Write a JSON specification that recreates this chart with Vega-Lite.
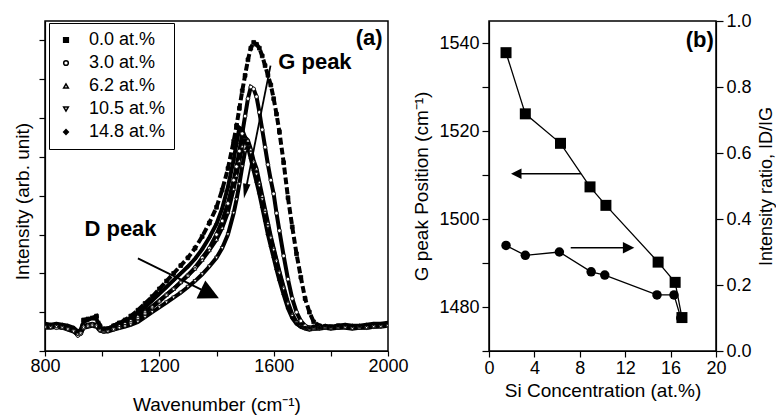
{
 "$schema": "https://vega.github.io/schema/vega-lite/v6.json",
 "padding": {"left": 12, "top": 11, "right": 0, "bottom": 0},
 "background": "white",
 "config": {
  "font": "Liberation Sans",
  "view": {"stroke": "black", "strokeWidth": 1.5},
  "axis": {"labelFont": "Liberation Sans", "titleFont": "Liberation Sans", "labelFontSize": 18, "titleFontSize": 19, "titleFontWeight": "normal", "tickColor": "black", "domainColor": "black", "labelColor": "black", "titleColor": "black", "tickWidth": 1.2, "domainWidth": 1.2, "grid": false, "labelFlush": false, "labelOverlap": false},
  "legend": {"labelFont": "Liberation Sans"},
  "text": {"font": "Liberation Sans"}
 },
 "datasets": {
  "spectra": [
   {"w":800,"s00":0.035,"s30":0.025,"s62":0.03,"s105":0.02,"s148":0.04},
   {"w":820,"s00":0.03,"s30":0.03,"s62":0.025,"s105":0.02,"s148":0.035},
   {"w":840,"s00":0.035,"s30":0.02,"s62":0.03,"s105":0.025,"s148":0.04},
   {"w":860,"s00":0.03,"s30":0.025,"s62":0.02,"s105":0.02,"s148":0.035},
   {"w":880,"s00":0.02,"s30":0.015,"s62":0.02,"s105":0.01,"s148":0.03},
   {"w":900,"s00":0.01,"s30":0.005,"s62":0.01,"s105":0.0,"s148":0.02},
   {"w":915,"s00":-0.01,"s30":-0.02,"s62":-0.01,"s105":-0.015,"s148":0.0},
   {"w":925,"s00":-0.005,"s30":-0.01,"s62":0.0,"s105":-0.01,"s148":0.01},
   {"w":935,"s00":0.06,"s30":0.02,"s62":0.03,"s105":0.02,"s148":0.05},
   {"w":950,"s00":0.065,"s30":0.03,"s62":0.035,"s105":0.025,"s148":0.06},
   {"w":965,"s00":0.07,"s30":0.035,"s62":0.04,"s105":0.03,"s148":0.07},
   {"w":980,"s00":0.08,"s30":0.03,"s62":0.035,"s105":0.025,"s148":0.065},
   {"w":992,"s00":0.03,"s30":0.01,"s62":0.015,"s105":0.005,"s148":0.02},
   {"w":1005,"s00":0.015,"s30":0.0,"s62":0.005,"s105":0.0,"s148":0.01},
   {"w":1020,"s00":0.015,"s30":0.005,"s62":0.01,"s105":0.0,"s148":0.015},
   {"w":1040,"s00":0.03,"s30":0.012,"s62":0.02,"s105":0.01,"s148":0.03},
   {"w":1060,"s00":0.045,"s30":0.022,"s62":0.032,"s105":0.018,"s148":0.045},
   {"w":1080,"s00":0.06,"s30":0.033,"s62":0.045,"s105":0.026,"s148":0.055},
   {"w":1100,"s00":0.08,"s30":0.05,"s62":0.06,"s105":0.035,"s148":0.07},
   {"w":1125,"s00":0.11,"s30":0.07,"s62":0.08,"s105":0.05,"s148":0.095},
   {"w":1150,"s00":0.145,"s30":0.095,"s62":0.105,"s105":0.075,"s148":0.125},
   {"w":1175,"s00":0.18,"s30":0.125,"s62":0.13,"s105":0.1,"s148":0.16},
   {"w":1200,"s00":0.22,"s30":0.155,"s62":0.16,"s105":0.125,"s148":0.195},
   {"w":1225,"s00":0.26,"s30":0.19,"s62":0.19,"s105":0.15,"s148":0.23},
   {"w":1250,"s00":0.3,"s30":0.22,"s62":0.22,"s105":0.175,"s148":0.265},
   {"w":1275,"s00":0.34,"s30":0.255,"s62":0.255,"s105":0.2,"s148":0.3},
   {"w":1300,"s00":0.38,"s30":0.29,"s62":0.29,"s105":0.23,"s148":0.335},
   {"w":1325,"s00":0.43,"s30":0.33,"s62":0.325,"s105":0.26,"s148":0.375},
   {"w":1350,"s00":0.49,"s30":0.38,"s62":0.37,"s105":0.295,"s148":0.425},
   {"w":1375,"s00":0.56,"s30":0.43,"s62":0.42,"s105":0.335,"s148":0.485},
   {"w":1400,"s00":0.64,"s30":0.5,"s62":0.475,"s105":0.38,"s148":0.555},
   {"w":1420,"s00":0.73,"s30":0.57,"s62":0.535,"s105":0.43,"s148":0.635},
   {"w":1440,"s00":0.84,"s30":0.66,"s62":0.615,"s105":0.5,"s148":0.745},
   {"w":1460,"s00":0.98,"s30":0.78,"s62":0.735,"s105":0.61,"s148":0.885},
   {"w":1470,"s00":1.06,"s30":0.85,"s62":0.805,"s105":0.68,"s148":0.97},
   {"w":1480,"s00":1.15,"s30":0.93,"s62":0.88,"s105":0.76,"s148":1.05},
   {"w":1490,"s00":1.24,"s30":1.02,"s62":0.955,"s105":0.85,"s148":1.04},
   {"w":1500,"s00":1.32,"s30":1.11,"s62":1.0,"s105":0.93,"s148":1.0},
   {"w":1510,"s00":1.4,"s30":1.2,"s62":0.985,"s105":0.95,"s148":0.95},
   {"w":1520,"s00":1.46,"s30":1.26,"s62":0.94,"s105":0.92,"s148":0.89},
   {"w":1530,"s00":1.49,"s30":1.25,"s62":0.88,"s105":0.87,"s148":0.83},
   {"w":1540,"s00":1.48,"s30":1.21,"s62":0.84,"s105":0.81,"s148":0.77},
   {"w":1550,"s00":1.46,"s30":1.13,"s62":0.77,"s105":0.75,"s148":0.71},
   {"w":1560,"s00":1.42,"s30":1.04,"s62":0.7,"s105":0.68,"s148":0.64},
   {"w":1570,"s00":1.37,"s30":0.95,"s62":0.63,"s105":0.61,"s148":0.57},
   {"w":1580,"s00":1.32,"s30":0.86,"s62":0.56,"s105":0.54,"s148":0.5},
   {"w":1590,"s00":1.27,"s30":0.78,"s62":0.49,"s105":0.48,"s148":0.44},
   {"w":1600,"s00":1.2,"s30":0.71,"s62":0.43,"s105":0.42,"s148":0.38},
   {"w":1610,"s00":1.12,"s30":0.61,"s62":0.37,"s105":0.36,"s148":0.32},
   {"w":1620,"s00":1.03,"s30":0.52,"s62":0.31,"s105":0.3,"s148":0.265},
   {"w":1635,"s00":0.87,"s30":0.39,"s62":0.23,"s105":0.22,"s148":0.19},
   {"w":1650,"s00":0.69,"s30":0.27,"s62":0.15,"s105":0.14,"s148":0.12},
   {"w":1665,"s00":0.54,"s30":0.17,"s62":0.09,"s105":0.08,"s148":0.07},
   {"w":1680,"s00":0.4,"s30":0.1,"s62":0.05,"s105":0.045,"s148":0.04},
   {"w":1695,"s00":0.28,"s30":0.055,"s62":0.03,"s105":0.025,"s148":0.025},
   {"w":1710,"s00":0.17,"s30":0.03,"s62":0.02,"s105":0.015,"s148":0.02},
   {"w":1725,"s00":0.1,"s30":0.02,"s62":0.015,"s105":0.01,"s148":0.02},
   {"w":1740,"s00":0.05,"s30":0.015,"s62":0.02,"s105":0.015,"s148":0.025},
   {"w":1760,"s00":0.03,"s30":0.02,"s62":0.02,"s105":0.015,"s148":0.02},
   {"w":1780,"s00":0.025,"s30":0.02,"s62":0.025,"s105":0.02,"s148":0.03},
   {"w":1800,"s00":0.025,"s30":0.02,"s62":0.02,"s105":0.015,"s148":0.025},
   {"w":1825,"s00":0.03,"s30":0.025,"s62":0.02,"s105":0.02,"s148":0.03},
   {"w":1850,"s00":0.03,"s30":0.025,"s62":0.025,"s105":0.02,"s148":0.035},
   {"w":1875,"s00":0.025,"s30":0.02,"s62":0.02,"s105":0.015,"s148":0.03},
   {"w":1900,"s00":0.025,"s30":0.025,"s62":0.02,"s105":0.02,"s148":0.03},
   {"w":1925,"s00":0.03,"s30":0.02,"s62":0.025,"s105":0.02,"s148":0.035},
   {"w":1950,"s00":0.035,"s30":0.025,"s62":0.03,"s105":0.025,"s148":0.04},
   {"w":1975,"s00":0.035,"s30":0.03,"s62":0.03,"s105":0.025,"s148":0.04},
   {"w":2000,"s00":0.04,"s30":0.03,"s62":0.035,"s105":0.03,"s148":0.045}
  ],
  "gpos": [
   {"c":1.5,"g":1537.8},{"c":3.2,"g":1523.9},{"c":6.3,"g":1517.2},{"c":8.9,"g":1507.3},
   {"c":10.3,"g":1503.1},{"c":14.9,"g":1490.2},{"c":16.4,"g":1485.6},{"c":17.0,"g":1477.6}
  ],
  "ratio": [
   {"c":1.5,"r":0.32},{"c":3.2,"r":0.29},{"c":6.2,"r":0.3},{"c":9.0,"r":0.24},
   {"c":10.2,"r":0.23},{"c":14.8,"r":0.17},{"c":16.3,"r":0.17},{"c":16.9,"r":0.1}
  ]
 },
 "spacing": 101,
 "bounds": "flush",
 "hconcat": [
  {
   "width": 343,
   "height": 330,
   "layer": [
    {
     "data": {"name": "spectra"},
     "transform": [{"fold": ["s00","s30","s62","s105","s148"], "as": ["series","I"]}],
     "layer": [
      {
       "transform": [{"filter": "datum.series != 's00'"}],
       "mark": {"type": "line", "strokeWidth": 4, "color": "black", "clip": true},
       "encoding": {
        "x": {"field": "w", "type": "quantitative", "scale": {"domain": [800,2000], "nice": false, "zero": false},
              "axis": {"values": [800,1000,1200,1400,1600,1800,2000], "format": "d", "labelExpr": "datum.value % 400 == 0 ? datum.label : ''", "title": "Wavenumber (cm⁻¹)", "tickSize": 5, "labelPadding": 1, "titlePadding": 20}},
        "y": {"field": "I", "type": "quantitative", "scale": {"domain": [-0.1,1.6], "nice": false, "zero": false},
              "axis": {"values": [-0.1,0,0.1,0.2,0.3,0.4,0.5,0.6,0.7,0.8,0.9,1,1.1,1.2,1.3,1.4,1.5,1.6], "labels": false, "title": "Intensity (arb. unit)", "tickSize": 6, "titlePadding": 6, "titleY": 180}},
        "detail": {"field": "series"}
       }
      },
      {
       "transform": [{"filter": "datum.series == 's00'"}],
       "mark": {"type": "line", "strokeWidth": 4, "color": "black", "strokeDash": [7,3], "clip": true},
       "encoding": {
        "x": {"field": "w", "type": "quantitative", "scale": {"domain": [800,2000]}},
        "y": {"field": "I", "type": "quantitative", "scale": {"domain": [-0.1,1.6]}}
       }
      },
      {
       "mark": {"type": "point", "filled": true, "stroke": "black", "strokeWidth": 0.8, "size": 14, "opacity": 1, "clip": true},
       "encoding": {
        "x": {"field": "w", "type": "quantitative", "scale": {"domain": [800,2000]}},
        "y": {"field": "I", "type": "quantitative", "scale": {"domain": [-0.1,1.6]}},
        "shape": {"field": "series", "type": "nominal", "scale": {"domain": ["s00","s30","s62","s105","s148"], "range": ["square","circle","triangle-up","triangle-down","diamond"]},
                  "legend": {"orient": "none", "legendX": 4, "legendY": 2, "title": null, "strokeColor": "black", "fillColor": "white", "padding": 8, "labelFontSize": 18, "symbolSize": 22, "rowPadding": 5, "symbolOffset": 0, "labelOffset": 14,
                             "encode": {"symbols": {"update": {"stroke": {"value": "black"}, "strokeWidth": {"value": 1}}}},
                             "labelExpr": "datum.label == 's00' ? '0.0 at.%' : datum.label == 's30' ? '3.0 at.%' : datum.label == 's62' ? '6.2 at.%' : datum.label == 's105' ? '10.5 at.%' : '14.8 at.%'"}},
        "fill": {"field": "series", "type": "nominal", "scale": {"domain": ["s00","s30","s62","s105","s148"], "range": ["black","white","white","white","black"]},
                 "legend": {"orient": "none", "legendX": 4, "legendY": 2, "title": null, "strokeColor": "black", "fillColor": "white", "padding": 8, "labelFontSize": 18, "symbolSize": 22, "rowPadding": 5, "symbolOffset": 0, "labelOffset": 14,
                            "encode": {"symbols": {"update": {"stroke": {"value": "black"}, "strokeWidth": {"value": 1}}}},
                            "labelExpr": "datum.label == 's00' ? '0.0 at.%' : datum.label == 's30' ? '3.0 at.%' : datum.label == 's62' ? '6.2 at.%' : datum.label == 's105' ? '10.5 at.%' : '14.8 at.%'"}}
       }
      }
     ]
    },
    {
     "data": {"values": [{"x": 1616, "y": 1.39, "t": "G peak"}, {"x": 938, "y": 0.53, "t": "D peak"}]},
     "mark": {"type": "text", "fontSize": 22, "fontWeight": "bold", "align": "left", "baseline": "middle", "color": "black"},
     "encoding": {
      "x": {"field": "x", "type": "quantitative", "scale": {"domain": [800,2000]}},
      "y": {"field": "y", "type": "quantitative", "scale": {"domain": [-0.1,1.6]}},
      "text": {"field": "t"}
     }
    },
    {
     "data": {"values": [{"x": 1981, "y": 1.51, "t": "(a)"}]},
     "mark": {"type": "text", "fontSize": 22, "fontWeight": "bold", "align": "right", "baseline": "middle", "color": "black"},
     "encoding": {
      "x": {"field": "x", "type": "quantitative", "scale": {"domain": [800,2000]}},
      "y": {"field": "y", "type": "quantitative", "scale": {"domain": [-0.1,1.6]}},
      "text": {"field": "t"}
     }
    },
    {
     "data": {"values": [{"x": 1589, "y": 1.37, "x2": 1505, "y2": 0.75}, {"x": 1125, "y": 0.377, "x2": 1347, "y2": 0.216}]},
     "mark": {"type": "rule", "strokeWidth": 1.8, "color": "black"},
     "encoding": {
      "x": {"field": "x", "type": "quantitative", "scale": {"domain": [800,2000]}},
      "y": {"field": "y", "type": "quantitative", "scale": {"domain": [-0.1,1.6]}},
      "x2": {"field": "x2"},
      "y2": {"field": "y2"}
     }
    },
    {
     "data": {"values": [{"x": 1501, "y": 0.723}]},
     "mark": {"type": "point", "shape": "M0,1L-0.5,-1L0.5,-1Z", "size": 225, "angle": 11, "filled": true, "color": "black", "opacity": 1},
     "encoding": {
      "x": {"field": "x", "type": "quantitative", "scale": {"domain": [800,2000]}},
      "y": {"field": "y", "type": "quantitative", "scale": {"domain": [-0.1,1.6]}}
     }
    },
    {
     "data": {"values": [{"x": 1377, "y": 0.194}]},
     "mark": {"type": "point", "shape": "M1,0L-1,-1L-1,1Z", "size": 400, "angle": 26, "filled": true, "color": "black", "opacity": 1},
     "encoding": {
      "x": {"field": "x", "type": "quantitative", "scale": {"domain": [800,2000]}},
      "y": {"field": "y", "type": "quantitative", "scale": {"domain": [-0.1,1.6]}}
     }
    }
   ]
  },
  {
   "width": 227,
   "height": 330,
   "layer": [
    {
     "layer": [
      {
       "data": {"name": "gpos"},
       "mark": {"type": "line", "color": "black", "strokeWidth": 1.3},
       "encoding": {
        "x": {"field": "c", "type": "quantitative", "scale": {"domain": [0,20], "nice": false, "zero": false},
              "axis": {"values": [0,2,4,6,8,10,12,14,16,18,20], "labelExpr": "datum.value % 4 == 0 ? datum.label : ''", "title": "Si Concentration (at.%)", "tickSize": 6, "labelPadding": 2, "titlePadding": 4}},
        "y": {"field": "g", "type": "quantitative", "scale": {"domain": [1470,1545], "nice": false, "zero": false},
              "axis": {"values": [1470,1480,1490,1500,1510,1520,1530,1540], "format": "d", "labelExpr": "datum.value % 20 == 0 ? datum.label : ''", "title": "G peak Position (cm⁻¹)", "tickSize": 7, "labelPadding": 3, "titlePadding": 7}}
       }
      },
      {
       "data": {"name": "gpos"},
       "mark": {"type": "point", "shape": "square", "filled": true, "color": "black", "size": 121, "opacity": 1},
       "encoding": {
        "x": {"field": "c", "type": "quantitative", "scale": {"domain": [0,20]}},
        "y": {"field": "g", "type": "quantitative", "scale": {"domain": [1470,1545]}}
       }
      },
      {
       "data": {"values": [{"c": 8.1, "c2": 2.8, "g": 1510.3}]},
       "mark": {"type": "rule", "strokeWidth": 1.5, "color": "black"},
       "encoding": {
        "x": {"field": "c", "type": "quantitative", "scale": {"domain": [0,20]}},
        "x2": {"field": "c2"},
        "y": {"field": "g", "type": "quantitative", "scale": {"domain": [1470,1545]}}
       }
      },
      {
       "data": {"values": [{"c": 2.4, "g": 1510.3}]},
       "mark": {"type": "point", "shape": "M-1,0L1,-1L1,1Z", "size": 110, "filled": true, "color": "black", "opacity": 1},
       "encoding": {
        "x": {"field": "c", "type": "quantitative", "scale": {"domain": [0,20]}},
        "y": {"field": "g", "type": "quantitative", "scale": {"domain": [1470,1545]}}
       }
      }
     ]
    },
    {
     "layer": [
      {
       "data": {"name": "ratio"},
       "mark": {"type": "line", "color": "black", "strokeWidth": 1.3},
       "encoding": {
        "x": {"field": "c", "type": "quantitative", "scale": {"domain": [0,20]}},
        "y": {"field": "r", "type": "quantitative", "scale": {"domain": [0,1], "nice": false},
              "axis": {"orient": "right", "values": [0,0.1,0.2,0.3,0.4,0.5,0.6,0.7,0.8,0.9,1], "labelExpr": "round(datum.value*10) % 2 == 0 ? format(datum.value, '.1f') : ''", "title": "Intensity ratio, ID/IG", "titleFontSize": 18, "titleAngle": 270, "titleBaseline": "top", "tickSize": 7, "labelPadding": 3, "titlePadding": 6}}
       }
      },
      {
       "data": {"name": "ratio"},
       "mark": {"type": "point", "shape": "circle", "filled": true, "color": "black", "size": 90, "opacity": 1},
       "encoding": {
        "x": {"field": "c", "type": "quantitative", "scale": {"domain": [0,20]}},
        "y": {"field": "r", "type": "quantitative", "scale": {"domain": [0,1]}}
       }
      },
      {
       "data": {"values": [{"c": 7.2, "c2": 12.0, "r": 0.313}]},
       "mark": {"type": "rule", "strokeWidth": 1.5, "color": "black"},
       "encoding": {
        "x": {"field": "c", "type": "quantitative", "scale": {"domain": [0,20]}},
        "x2": {"field": "c2"},
        "y": {"field": "r", "type": "quantitative", "scale": {"domain": [0,1]}}
       }
      },
      {
       "data": {"values": [{"c": 12.3, "r": 0.313}]},
       "mark": {"type": "point", "shape": "M1,0L-1,-1L-1,1Z", "size": 130, "filled": true, "color": "black", "opacity": 1},
       "encoding": {
        "x": {"field": "c", "type": "quantitative", "scale": {"domain": [0,20]}},
        "y": {"field": "r", "type": "quantitative", "scale": {"domain": [0,1]}}
       }
      },
      {
       "data": {"values": [{"c": 19.8, "r": 0.942, "t": "(b)"}]},
       "mark": {"type": "text", "fontSize": 22, "fontWeight": "bold", "align": "right", "baseline": "middle", "color": "black"},
       "encoding": {
        "x": {"field": "c", "type": "quantitative", "scale": {"domain": [0,20]}},
        "y": {"field": "r", "type": "quantitative", "scale": {"domain": [0,1]}},
        "text": {"field": "t"}
       }
      }
     ]
    }
   ],
   "resolve": {"scale": {"y": "independent"}}
  }
 ]
}
